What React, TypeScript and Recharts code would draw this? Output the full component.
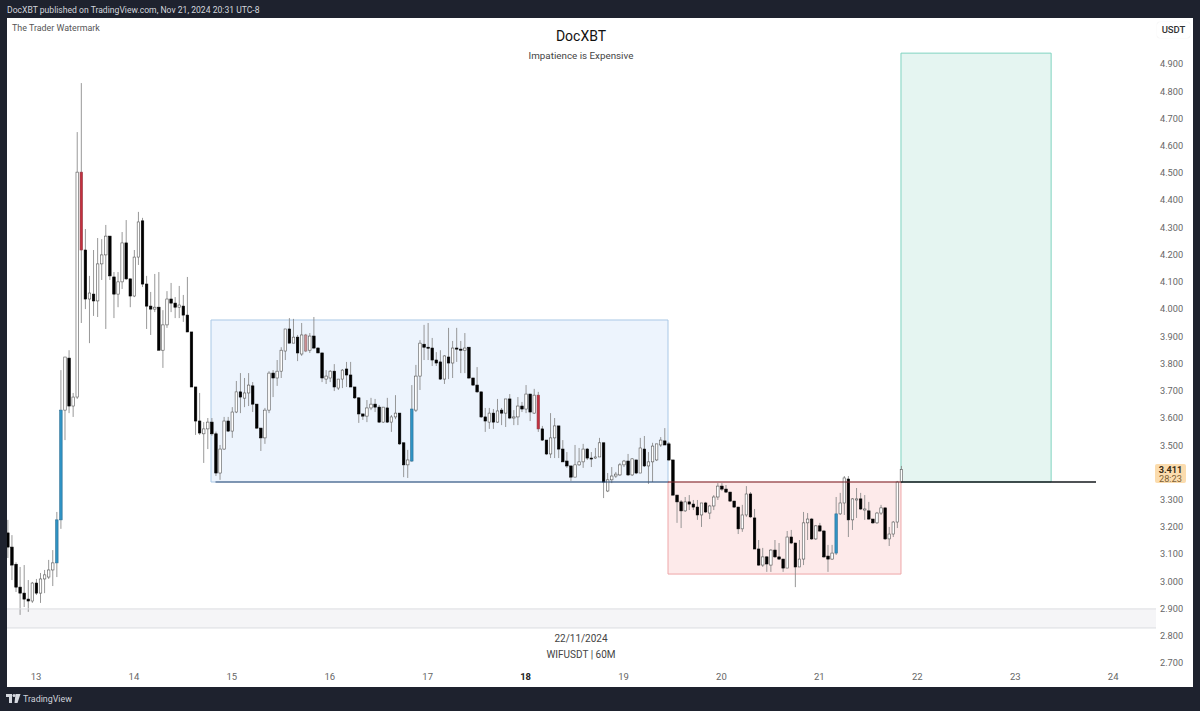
import React from "react";
import { ComposedChart, Bar, XAxis, YAxis, ReferenceArea, ReferenceLine } from "recharts";

// Each row is one 60-minute candle: [open, high, low, close]
const firstHour = -7;
const day12 = [
  [3.178,3.226,3.086,3.126],[3.126,3.170,3.005,3.060],[3.063,3.070,2.961,2.979],[2.979,3.053,2.877,2.957],[2.957,3.060,2.906,2.935],[2.935,3.005,2.888,2.928],[2.928,2.998,2.921,2.994],
];
const day13 = [
  [2.994,3.009,2.950,2.957],[2.957,3.031,2.921,3.009],[3.009,3.042,2.957,3.024],[3.016,3.079,3.009,3.042],[3.042,3.115,2.983,3.068],[3.068,3.255,3.016,3.226],[3.226,3.776,3.193,3.629],[3.629,3.824,3.519,3.824],
  [3.820,3.849,3.618,3.644],[3.644,3.692,3.604,3.677],[3.677,4.650,3.670,4.503],[4.503,4.830,3.949,4.217],[4.217,4.294,4.000,4.037],[4.037,4.122,3.875,4.059],[4.055,4.217,3.975,4.030],[4.030,4.261,3.971,4.166],
  [4.166,4.257,4.107,4.199],[4.199,4.309,3.927,4.268],[4.268,4.268,4.107,4.122],[4.118,4.136,3.967,4.055],[4.055,4.136,4.007,4.100],[4.100,4.283,4.074,4.243],[4.243,4.327,4.107,4.111],[4.111,4.111,4.007,4.048],
];
const day14 = [
  [4.048,4.217,4.044,4.191],[4.191,4.357,4.162,4.320],[4.324,4.335,4.081,4.092],[4.092,4.122,3.927,4.011],[4.011,4.063,3.905,4.000],[4.000,4.129,3.989,4.007],[4.007,4.136,3.849,3.849],[3.849,3.996,3.784,3.942],
  [3.942,4.066,3.931,4.037],[4.037,4.096,3.989,4.022],[4.022,4.044,3.967,4.007],[4.007,4.085,3.967,4.015],[4.011,4.052,3.953,3.978],[3.978,4.118,3.916,3.916],[3.916,3.916,3.714,3.714],[3.714,3.714,3.538,3.589],
  [3.589,3.692,3.538,3.545],[3.542,3.585,3.435,3.560],[3.560,3.600,3.486,3.585],[3.585,3.600,3.535,3.542],[3.542,3.550,3.387,3.398],[3.398,3.501,3.373,3.486],[3.486,3.604,3.483,3.589],[3.589,3.604,3.549,3.552],
];
const day15 = [
  [3.552,3.640,3.527,3.622],[3.622,3.736,3.618,3.696],[3.696,3.765,3.618,3.677],[3.673,3.747,3.640,3.692],[3.692,3.765,3.644,3.721],[3.718,3.732,3.622,3.651],[3.651,3.651,3.560,3.563],[3.563,3.563,3.479,3.527],
  [3.527,3.637,3.505,3.629],[3.629,3.772,3.618,3.765],[3.765,3.776,3.677,3.747],[3.747,3.813,3.718,3.772],[3.772,3.860,3.747,3.849],[3.846,3.927,3.813,3.927],[3.927,3.967,3.875,3.875],[3.875,3.964,3.875,3.897],
  [3.897,3.905,3.809,3.839],[3.835,3.949,3.828,3.905],[3.905,3.909,3.842,3.846],[3.849,3.912,3.839,3.901],[3.901,3.971,3.853,3.857],[3.857,3.860,3.839,3.839],[3.839,3.839,3.732,3.747],[3.743,3.776,3.725,3.754],
];
const day16 = [
  [3.747,3.776,3.732,3.772],[3.772,3.798,3.699,3.714],[3.710,3.743,3.703,3.743],[3.743,3.780,3.710,3.776],[3.780,3.806,3.714,3.758],[3.758,3.806,3.714,3.714],[3.714,3.714,3.670,3.674],[3.674,3.677,3.582,3.615],
  [3.615,3.615,3.593,3.607],[3.607,3.666,3.585,3.637],[3.637,3.674,3.629,3.651],[3.651,3.670,3.622,3.640],[3.640,3.648,3.582,3.585],[3.585,3.640,3.582,3.640],[3.637,3.674,3.582,3.585],[3.585,3.611,3.549,3.604],
  [3.604,3.684,3.596,3.618],[3.618,3.618,3.501,3.505],[3.509,3.509,3.383,3.428],[3.428,3.483,3.380,3.446],[3.442,3.721,3.439,3.633],[3.629,3.795,3.622,3.754],[3.754,3.886,3.703,3.875],[3.871,3.942,3.813,3.860],
];
const day17 = [
  [3.860,3.949,3.813,3.857],[3.857,3.894,3.791,3.813],[3.813,3.842,3.791,3.802],[3.806,3.849,3.740,3.743],[3.743,3.831,3.725,3.828],[3.824,3.931,3.743,3.802],[3.802,3.883,3.747,3.857],[3.857,3.931,3.806,3.853],
  [3.853,3.883,3.765,3.849],[3.849,3.912,3.765,3.857],[3.860,3.860,3.743,3.747],[3.747,3.747,3.718,3.721],[3.721,3.787,3.692,3.696],[3.696,3.696,3.600,3.604],[3.604,3.637,3.549,3.589],[3.585,3.637,3.560,3.618],
  [3.618,3.633,3.560,3.585],[3.585,3.670,3.582,3.626],[3.629,3.637,3.574,3.618],[3.618,3.670,3.567,3.670],[3.670,3.688,3.596,3.600],[3.600,3.629,3.574,3.604],[3.604,3.677,3.574,3.644],[3.644,3.659,3.622,3.633],
];
const day18 = [
  [3.633,3.721,3.618,3.688],[3.688,3.688,3.589,3.622],[3.618,3.707,3.615,3.684],[3.684,3.696,3.549,3.560],[3.560,3.571,3.516,3.519],[3.519,3.519,3.464,3.468],[3.468,3.618,3.453,3.527],[3.527,3.600,3.453,3.571],
  [3.571,3.571,3.453,3.486],[3.486,3.519,3.439,3.439],[3.442,3.475,3.417,3.424],[3.424,3.424,3.369,3.383],[3.383,3.501,3.383,3.428],[3.428,3.490,3.424,3.439],[3.439,3.505,3.417,3.486],[3.486,3.490,3.446,3.453],
  [3.453,3.475,3.420,3.450],[3.453,3.490,3.450,3.457],[3.457,3.527,3.457,3.509],[3.509,3.509,3.306,3.365],[3.332,3.398,3.328,3.373],[3.373,3.420,3.361,3.387],[3.387,3.402,3.380,3.394],[3.391,3.435,3.387,3.428],
];
const day19 = [
  [3.428,3.446,3.420,3.442],[3.442,3.468,3.387,3.391],[3.391,3.453,3.387,3.450],[3.446,3.446,3.394,3.398],[3.398,3.527,3.398,3.490],[3.486,3.534,3.420,3.424],[3.424,3.475,3.358,3.439],[3.439,3.509,3.365,3.497],
  [3.446,3.505,3.442,3.505],[3.501,3.530,3.494,3.519],[3.516,3.563,3.501,3.501],[3.505,3.512,3.442,3.446],[3.446,3.446,3.314,3.317],[3.317,3.317,3.215,3.292],[3.292,3.299,3.196,3.259],[3.259,3.310,3.255,3.292],
  [3.292,3.317,3.262,3.284],[3.284,3.299,3.262,3.273],[3.273,3.299,3.226,3.244],[3.244,3.288,3.200,3.288],[3.288,3.292,3.251,3.255],[3.251,3.281,3.229,3.277],[3.277,3.317,3.262,3.310],[3.310,3.361,3.299,3.350],
];
const day20 = [
  [3.350,3.361,3.332,3.339],[3.339,3.354,3.325,3.328],[3.328,3.328,3.292,3.295],[3.295,3.295,3.270,3.273],[3.273,3.273,3.174,3.193],[3.193,3.281,3.182,3.244],[3.244,3.350,3.237,3.321],[3.321,3.328,3.233,3.237],
  [3.233,3.266,3.119,3.119],[3.119,3.152,3.057,3.060],[3.060,3.123,3.053,3.090],[3.090,3.093,3.035,3.064],[3.060,3.119,3.035,3.115],[3.115,3.152,3.086,3.090],[3.090,3.141,3.079,3.082],[3.082,3.082,3.035,3.049],
  [3.049,3.185,3.049,3.163],[3.163,3.189,3.137,3.141],[3.141,3.141,2.979,3.053],[3.053,3.152,3.053,3.082],[3.082,3.255,3.060,3.215],[3.215,3.251,3.152,3.229],[3.229,3.233,3.152,3.156],[3.156,3.207,3.152,3.204],
];
const day21 = [
  [3.204,3.215,3.182,3.185],[3.185,3.189,3.086,3.090],[3.093,3.134,3.035,3.082],[3.082,3.134,3.079,3.104],[3.104,3.310,3.097,3.248],[3.248,3.325,3.244,3.288],[3.288,3.387,3.244,3.380],[3.376,3.387,3.163,3.226],
  [3.226,3.306,3.189,3.303],[3.299,3.343,3.233,3.303],[3.303,3.325,3.262,3.266],[3.262,3.317,3.226,3.266],[3.259,3.292,3.226,3.229],[3.229,3.229,3.211,3.215],[3.215,3.255,3.211,3.251],[3.251,3.281,3.244,3.270],
  [3.270,3.270,3.152,3.156],[3.156,3.200,3.130,3.174],[3.174,3.222,3.163,3.218],[3.218,3.369,3.196,3.365],[3.365,3.424,3.361,3.411],
];

const blueHours = [5, 6, 92, 196];
const redHours = [11, 123];
const pinkHours = [66];

const dayTicks = [0, 24, 48, 72, 96, 120, 144, 168, 192, 216, 240, 264];
const dayLabels = ["13", "14", "15", "16", "17", "18", "19", "20", "21", "22", "23", "24"];
const priceTicks = [2.7, 2.8, 2.9, 3.0, 3.1, 3.2, 3.3, 3.5, 3.6, 3.7, 3.8, 3.9, 4.0, 4.1, 4.2, 4.3, 4.4, 4.5, 4.6, 4.7, 4.8, 4.9];

const entry = 3.365;
const rangeTop = 3.96;
const stopLow = 3.027;
const targetHigh = 4.94;
const bandHigh = 2.899;
const bandLow = 2.829;
const rangeHours = [42.9, 154.9];
const stopHours = [154.9, 212];
const targetHours = [212, 248.8];
const entryLineHours = [212, 259.8];
const rangeLineHours = [44, 155];

const candles = [...day12, ...day13, ...day14, ...day15, ...day16, ...day17, ...day18, ...day19, ...day20, ...day21].map((r, i) => ({
  hour: firstHour + i,
  open: r[0],
  high: r[1],
  low: r[2],
  close: r[3],
  range: [r[2], r[1]],
}));

const FONT = "Roboto, 'Noto Sans', sans-serif";

function Candle(props: any) {
  const { x, y, width, height, payload } = props;
  const { open, high, low, close, hour } = payload;
  const span = high - low || 1;
  const cy = (v: number) => y + ((high - v) / span) * height;
  const top = cy(Math.max(open, close));
  const bottom = cy(Math.min(open, close));
  const cx = x + width / 2;
  let fill = close >= open ? "#ffffff" : "#000000";
  let edge = close >= open ? "#555555" : "#000000";
  if (blueHours.includes(hour)) { fill = "#2f93c4"; edge = "#2b6f94"; }
  if (redHours.includes(hour)) { fill = "#c4303f"; edge = "#8f3a44"; }
  if (pinkHours.includes(hour)) { fill = "#cc8f93"; edge = "#8a7577"; }
  return (
    <g>
      <line x1={cx} x2={cx} y1={y} y2={y + height} stroke="#8c8c8c" strokeWidth={0.9} />
      <rect x={cx - 1.25} y={top} width={2.5} height={Math.max(bottom - top, 1)} fill={fill} stroke={edge} strokeWidth={0.6} />
    </g>
  );
}

function DayTick(props: any) {
  const { x, y, payload } = props;
  const label = dayLabels[dayTicks.indexOf(payload.value)];
  return (
    <text x={x} y={y + 4} textAnchor="middle" fontSize={9.5} fontFamily={FONT} fontWeight={label === "18" ? 700 : 400} fill={label === "18" ? "#222" : "#666"}>
      {label}
    </text>
  );
}

const abs = (o: React.CSSProperties): React.CSSProperties => ({ position: "absolute", fontFamily: FONT, whiteSpace: "nowrap", ...o });

export default function App() {
  return (
    <div style={{ position: "absolute", left: 0, top: 0, width: 1200, height: 711, background: "#1e222e", overflow: "hidden" }}>
      <div style={abs({ left: 7, top: 3, fontSize: 8.6, lineHeight: "14px", color: "#d3d6dd" })}>DocXBT published on TradingView.com, Nov 21, 2024 20:31 UTC-8</div>
      <div style={{ position: "absolute", left: 7, top: 18, width: 1186, height: 669, background: "#ffffff" }} />
      <div style={{ position: "absolute", left: 0, top: 0 }}>
        <ComposedChart width={1200} height={687} data={candles} margin={{ top: 18, right: 7, bottom: 0, left: 7 }}>
          <XAxis dataKey="hour" type="number" domain={[-7.1, 274.5]} ticks={dayTicks} height={19} axisLine={false} tickLine={false} tick={<DayTick />} interval={0} allowDataOverflow />
          <YAxis orientation="right" width={37} type="number" domain={[2.682, 5.069]} ticks={priceTicks} interval={0} axisLine={false} tickLine={false} tickMargin={0}
            tickFormatter={(v: number) => v.toFixed(3)} tick={{ fontSize: 9.2, fill: "#666", fontFamily: FONT, dx: -2 }} allowDataOverflow />
          <ReferenceArea y1={bandLow} y2={bandHigh} fill="#f5f5f7" fillOpacity={1} stroke="none" />
          <ReferenceLine y={bandHigh} stroke="#dcdde1" strokeWidth={1} />
          <ReferenceLine y={bandLow} stroke="#dcdde1" strokeWidth={1} />
          <ReferenceArea x1={rangeHours[0]} x2={rangeHours[1]} y1={entry} y2={rangeTop} fill="#edf4fd" fillOpacity={1} stroke="#a9c8e6" strokeWidth={1} />
          <ReferenceArea x1={stopHours[0]} x2={stopHours[1]} y1={stopLow} y2={entry} fill="#fdeaea" fillOpacity={1} stroke="#eea6a8" strokeWidth={1} />
          <ReferenceArea x1={targetHours[0]} x2={targetHours[1]} y1={entry} y2={targetHigh} fill="#e5f5f1" fillOpacity={1} stroke="#7fd3c0" strokeWidth={1} />
          <ReferenceLine segment={[{ x: rangeLineHours[0], y: entry }, { x: rangeLineHours[1], y: entry }]} stroke="#2d4a73" strokeWidth={1.2} />
          <ReferenceLine segment={[{ x: stopHours[0], y: entry }, { x: stopHours[1], y: entry }]} stroke="#7d3036" strokeWidth={1.2} />
          <ReferenceLine segment={[{ x: entryLineHours[0], y: entry }, { x: entryLineHours[1], y: entry }]} stroke="#15181c" strokeWidth={1.5} />
          <Bar dataKey="range" barSize={3} shape={<Candle />} isAnimationActive={false} />
        </ComposedChart>
      </div>
      <div style={abs({ left: 7, top: 18, padding: "2px 5px", fontSize: 8.9, lineHeight: "16px", color: "#555" })}>The Trader Watermark</div>
      <div style={abs({ left: 381, width: 400, top: 27, textAlign: "center", fontSize: 14, lineHeight: "18px", color: "#111" })}>DocXBT</div>
      <div style={abs({ left: 381, width: 400, top: 49, textAlign: "center", fontSize: 9.8, lineHeight: "14px", color: "#444" })}>Impatience is Expensive</div>
      <div style={abs({ left: 381, width: 400, top: 632, textAlign: "center", fontSize: 10, lineHeight: "14px", color: "#444" })}>22/11/2024</div>
      <div style={abs({ left: 381, width: 400, top: 648, textAlign: "center", fontSize: 10, lineHeight: "14px", color: "#444" })}>WIFUSDT | 60M</div>
      <div style={abs({ left: 1157, top: 22, width: 33, height: 16, textAlign: "center", fontSize: 9.5, fontWeight: 500, lineHeight: "16px", color: "#333", background: "#fff", borderRadius: 3, boxShadow: "0 0 1px #ddd" })}>USDT</div>
      <div style={abs({ left: 1155, top: 464, width: 31, height: 19, background: "#fbdcae", borderRadius: 2, textAlign: "center", fontSize: 9.2, lineHeight: "9px", paddingTop: 1, boxSizing: "border-box", color: "#3a2c14", fontWeight: 700 })}>
        3.411
        <div style={{ fontWeight: 400, color: "#7d5f33" }}>28:23</div>
      </div>
      <svg style={{ position: "absolute", left: 6, top: 693 }} width="15" height="12" viewBox="0 0 15 12">
        <path d="M0 1h6v9H3V4H0z M9.5 1h5l-3 9H8.5z" fill="#d5d8df" />
        <circle cx="8" cy="2.6" r="1.5" fill="#d5d8df" />
      </svg>
      <div style={abs({ left: 23, top: 692, fontSize: 8.9, lineHeight: "14px", color: "#cfd2da" })}>TradingView</div>
    </div>
  );
}
